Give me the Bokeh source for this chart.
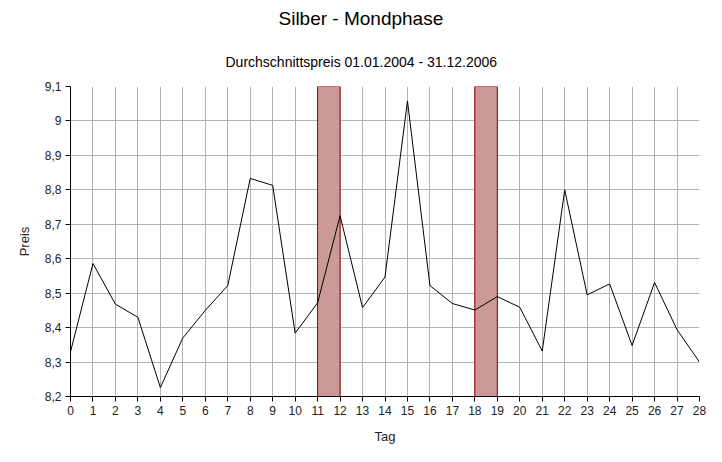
from bokeh.plotting import figure
from bokeh.models import Title, FixedTicker
from bokeh.embed import file_html
from bokeh.resources import INLINE

days = list(range(0, 29))
prices = [8.33, 8.586, 8.468, 8.43, 8.226, 8.37, 8.45, 8.522, 8.833, 8.813,
          8.384, 8.472, 8.725, 8.458, 8.547, 9.058, 8.522, 8.47, 8.451, 8.49,
          8.459, 8.332, 8.80, 8.495, 8.527, 8.348, 8.531, 8.394, 8.30]
phase_start = [11, 18]
phase_end = [12, 19]
y_ticks = [8.2, 8.3, 8.4, 8.5, 8.6, 8.7, 8.8, 8.9, 9.0, 9.1]
y_tick_labels = ["8,2", "8,3", "8,4", "8,5", "8,6", "8,7", "8,8", "8,9", "9", "9,1"]
y_min, y_max = 8.2, 9.1
title_text = "Silber - Mondphase"
subtitle_text = "Durchschnittspreis 01.01.2004 - 31.12.2006"

FONT = "Liberation Sans"

p = figure(width=706, height=446, output_backend="svg", toolbar_location=None,
           x_range=(0, 28), y_range=(y_min, y_max),
           min_border_left=70, min_border_right=7, min_border_top=86,
           min_border_bottom=47, title=None)
p.outline_line_color = None
p.background_fill_color = "white"

p.add_layout(Title(text=subtitle_text, align="left", offset=155, standoff=34,
                   text_font=FONT, text_font_size="14px", text_font_style="normal",
                   text_color="black"), "above")
p.add_layout(Title(text=title_text, align="left", offset=208, standoff=11,
                   text_font=FONT, text_font_size="19px", text_font_style="normal",
                   text_color="black"), "above")

p.quad(left=phase_start, right=phase_end, bottom=[y_min] * len(phase_start),
       top=[y_max] * len(phase_start), fill_color="#cc9999", fill_alpha=1.0,
       line_color="#a00000", line_width=1)
p.line(days, prices, line_color="black", line_width=1)

p.xaxis.ticker = FixedTicker(ticks=days)
p.yaxis.ticker = FixedTicker(ticks=y_ticks)
p.yaxis.major_label_overrides = {t: l for t, l in zip(y_ticks, y_tick_labels)}

for ax in (p.xaxis, p.yaxis):
    ax.axis_line_color = "black"
    ax.major_tick_line_color = "black"
    ax.major_tick_out = 5
    ax.major_tick_in = 0
    ax.minor_tick_line_color = None
    ax.major_label_text_font = FONT
    ax.major_label_text_font_size = "12px"
    ax.major_label_text_color = "#222222"
    ax.axis_label_text_font = FONT
    ax.axis_label_text_font_size = "13px"
    ax.axis_label_text_font_style = "normal"
    ax.axis_label_text_color = "#222222"
    ax.major_label_standoff = 4

p.xaxis.axis_label = "Tag"
p.yaxis.axis_label = "Preis"
p.xaxis.axis_label_standoff = 11
p.yaxis.axis_label_standoff = 10

p.grid.grid_line_color = "#b3b3b3"
p.grid.grid_line_alpha = 1.0
p.grid.grid_line_width = 1
p.grid.level = "underlay"

open("out.html", "w").write(file_html(p, INLINE))
